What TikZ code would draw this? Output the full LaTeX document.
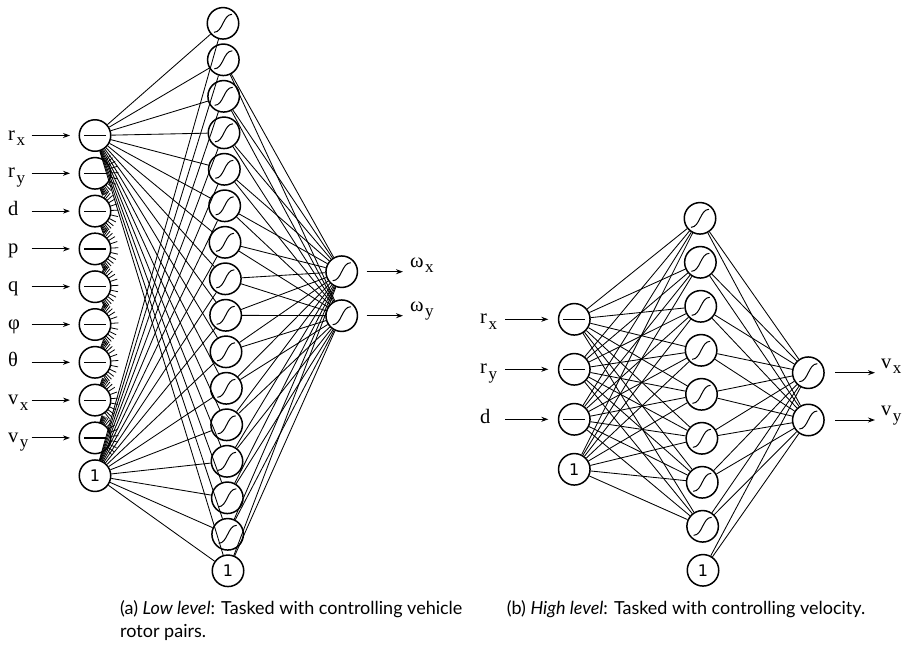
\documentclass[tikz,border=0pt]{standalone}
\usepackage{fontspec}
\setmainfont{Liberation Serif}
\newfontfamily\capfont{Lato}
\newfontfamily\onefont{DejaVu Sans}
\usetikzlibrary{arrows.meta,calc}
\newcommand{\lab}[2]{#1\kern1.5pt\raisebox{-5.5pt}{\fontsize{17}{17}\selectfont #2}}
\begin{document}
\begin{tikzpicture}[x=1pt,y=-1pt,
  neuron/.style={circle,draw,fill=white,line width=1.5pt,minimum size=31.5pt,inner sep=0pt},
  onenode/.style={neuron,font=\onefont\fontsize{16}{16}\selectfont},
  conn/.style={line width=0.85pt},
  stub/.style={line width=0.8pt},
  inarrow/.style={line width=1pt,-{Stealth[length=7pt,width=5pt]}},
  lbl/.style={anchor=base west,inner sep=0pt,font=\fontsize{20.5}{20.5}\selectfont},
  minusline/.style={line width=1.2pt},
  sigline/.style={line width=1pt},
  captxt/.style={anchor=base west,inner sep=0pt,font=\capfont\fontsize{18}{18}\selectfont}]
\useasboundingbox (0,0) rectangle (902,649);

% ---------------- left network ----------------
\foreach \i in {0,...,8} {
  \pgfmathsetmacro\yy{135.5+37.8*\i}
  \node[neuron] (a\i) at (95,\yy) {};
  \draw[minusline] ([xshift=-11pt]a\i.center) -- ([xshift=11pt]a\i.center);
}
\node[onenode] (a9) at (95,475.7) {1};
\foreach \j in {0,...,14} {
  \pgfmathsetmacro\xx{223+5*\j/15}
  \pgfmathsetmacro\yy{23.3+36.5*\j}
  \node[neuron] (ah\j) at (\xx,\yy) {};
  \draw[sigline] ([shift={(-9,9)}]ah\j.center) .. controls +(9,0) and +(-9,0) .. ([shift={(9,-9)}]ah\j.center);
}
\node[onenode] (ah15) at (228,570.8) {1};
\foreach \k/\yy in {0/271.7,1/315.7} {
  \node[neuron] (ao\k) at (341.7,\yy) {};
  \draw[sigline] ([shift={(-9,9)}]ao\k.center) .. controls +(9,0) and +(-9,0) .. ([shift={(9,-9)}]ao\k.center);
}
% full connections from first input and bias, stubs for the others
\foreach \i in {0,9} \foreach \j in {0,...,15} \draw[conn] (a\i) -- (ah\j);
\foreach \i in {1,...,8} \foreach \j in {0,...,15}
  \draw[stub] ($(a\i.center)!16.2pt!(ah\j.center)$) -- ($(a\i.center)!23.5pt!(ah\j.center)$);
\foreach \j in {1,...,15} \foreach \k in {0,1} \draw[conn] (ah\j) -- (ao\k);

% input arrows and labels (left)
\foreach \i/\t in {0/{\lab{r}{x}},1/{\lab{r}{y}},2/{d},3/{p},4/{q},5/{φ},6/{θ},7/{\lab{v}{x}},8/{\lab{v}{y}}} {
  \pgfmathsetmacro\yy{135.5+37.8*\i}
  \coordinate (ain\i) at (31.7,\yy);
  \coordinate (aend\i) at (70,\yy);
  \draw[inarrow] (ain\i) -- (aend\i);
  \node[lbl] (alab\i) at (8,\yy+4.5) {\t};
}
% output arrows and labels (left)
\foreach \k/\t in {0/{\lab{ω}{x}},1/{\lab{ω}{y}}} {
  \coordinate (aos\k) at (366.7,0|-ao\k);
  \coordinate (aoe\k) at (403,0|-ao\k);
  \draw[inarrow] (aos\k) -- (aoe\k);
  \node[lbl] (aolab\k) at ([yshift=4.5pt]410,0|-ao\k) {\t};
}

% ---------------- right network ----------------
\foreach \i in {0,...,2} {
  \pgfmathsetmacro\yy{319.3+50*\i}
  \node[neuron] (b\i) at (574.3,\yy) {};
  \draw[minusline] ([xshift=-11pt]b\i.center) -- ([xshift=11pt]b\i.center);
}
\node[onenode] (b3) at (574.3,469.3) {1};
\foreach \j in {0,...,7} {
  \pgfmathsetmacro\xx{700+3*\j/8}
  \pgfmathsetmacro\yy{218.3+44*\j}
  \node[neuron] (bh\j) at (\xx,\yy) {};
  \draw[sigline] ([shift={(-9,9)}]bh\j.center) .. controls +(9,0) and +(-9,0) .. ([shift={(9,-9)}]bh\j.center);
}
\node[onenode] (bh8) at (703,570.3) {1};
\foreach \k/\yy in {0/372.7,1/420} {
  \node[neuron] (bo\k) at (808.3,\yy) {};
  \draw[sigline] ([shift={(-9,9)}]bo\k.center) .. controls +(9,0) and +(-9,0) .. ([shift={(9,-9)}]bo\k.center);
}
\foreach \i in {0,...,3} \foreach \j in {0,...,7} \draw[conn] (b\i) -- (bh\j);
\foreach \j in {0,...,8} \foreach \k in {0,1} \draw[conn] (bh\j) -- (bo\k);

\foreach \i/\t in {0/{\lab{r}{x}},1/{\lab{r}{y}},2/{d}} {
  \pgfmathsetmacro\yy{319.3+50*\i}
  \coordinate (bin\i) at (505,\yy);
  \coordinate (bend\i) at (548.3,\yy);
  \draw[inarrow] (bin\i) -- (bend\i);
  \node[lbl] (blab\i) at (480,\yy+4.5) {\t};
}
\foreach \k/\t in {0/{\lab{v}{x}},1/{\lab{v}{y}}} {
  \coordinate (bos\k) at (835,0|-bo\k);
  \coordinate (boe\k) at (875,0|-bo\k);
  \draw[inarrow] (bos\k) -- (boe\k);
  \node[lbl] (bolab\k) at ([yshift=4.5pt]881,0|-bo\k) {\t};
}

% ---------------- captions ----------------
\node[captxt] (capa1) at (120,614) {(a) \textit{Low level}: Tasked with controlling vehicle};
\node[captxt] (capa2) at (120,637) {rotor pairs.};
\node[captxt,anchor=base] (capb) at (686,614) {(b) \textit{High level}: Tasked with controlling velocity.};
\end{tikzpicture}
\end{document}
